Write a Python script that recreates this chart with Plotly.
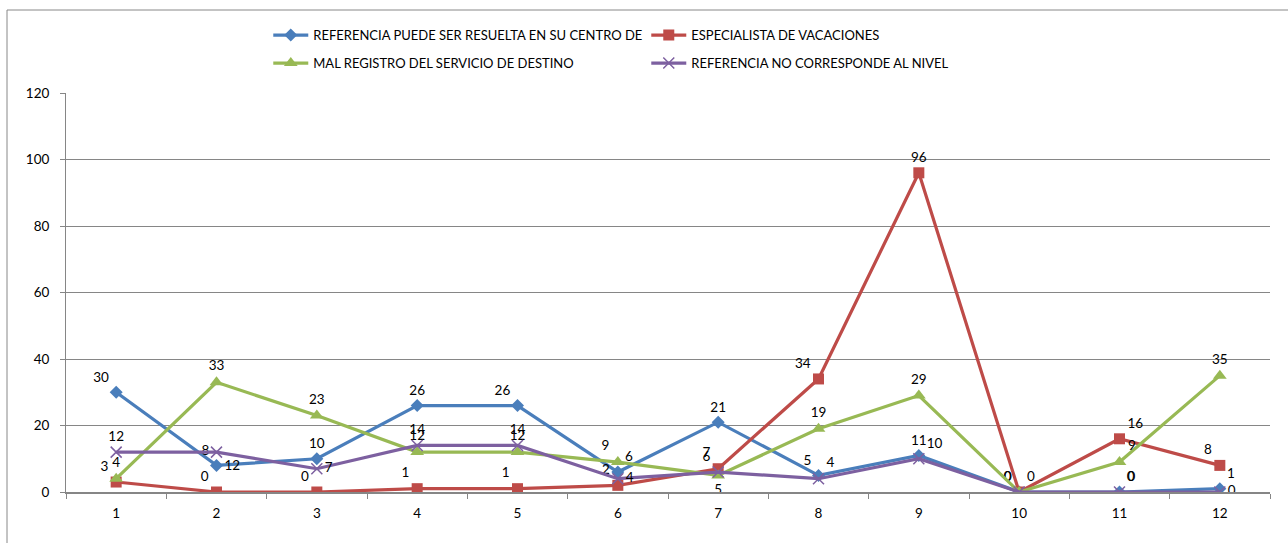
import plotly.graph_objects as go

categories = ["1", "2", "3", "4", "5", "6", "7", "8", "9", "10", "11", "12"]
resuelta_centro = [30, 8, 10, 26, 26, 6, 21, 5, 11, 0, 0, 1]
especialista_vacaciones = [3, 0, 0, 1, 1, 2, 7, 34, 96, 0, 16, 8]
mal_registro = [4, 33, 23, 12, 12, 9, 5, 19, 29, 0, 9, 35]
no_corresponde = [12, 12, 7, 14, 14, 4, 6, 4, 10, 0, 0, 0]

names = [
    "REFERENCIA PUEDE SER RESUELTA EN SU CENTRO DE",
    "ESPECIALISTA DE VACACIONES",
    "MAL REGISTRO DEL SERVICIO DE DESTINO",
    "REFERENCIA NO CORRESPONDE AL NIVEL",
]

FONT = "Lato, 'Open Sans', sans-serif"

pos_blue = ["top left", "top left", "top center", "top center", "top left", "top right",
            "top center", "top left", "top center", "top left", "top right", "top right"]
pos_red = ["top left", "top left", "top left", "top left", "top left", "top left",
           "top left", "top left", "top center", "top left", "top right", "top left"]
pos_green = ["top center", "top center", "top center", "top center", "top center", "top left",
             "bottom center", "top center", "top center", "bottom center", "top right", "top center"]
pos_purple = ["top center", "bottom right", "middle right", "top center", "top center", "middle right",
              "top left", "top right", "top right", "top right", "top right", "middle right"]

fig = go.Figure()

fig.add_trace(go.Scatter(
    x=categories, y=resuelta_centro, name=names[0], mode="lines+markers+text",
    text=[str(v) for v in resuelta_centro], textposition=pos_blue,
    line=dict(color="#4A7EBB", width=3.2),
    marker=dict(symbol="diamond", size=10, color="#4A7EBB"),
    textfont=dict(family=FONT, size=13.5, color="#000000"),
    legend="legend",
))
fig.add_trace(go.Scatter(
    x=categories, y=especialista_vacaciones, name=names[1], mode="lines+markers+text",
    text=[str(v) for v in especialista_vacaciones], textposition=pos_red,
    line=dict(color="#BE4B48", width=3.2),
    marker=dict(symbol="square", size=11, color="#BE4B48"),
    textfont=dict(family=FONT, size=13.5, color="#000000"),
    legend="legend",
))
fig.add_trace(go.Scatter(
    x=categories, y=mal_registro, name=names[2], mode="lines+markers+text",
    text=[str(v) for v in mal_registro], textposition=pos_green,
    line=dict(color="#98B954", width=3.2),
    marker=dict(symbol="triangle-up", size=12, color="#98B954"),
    textfont=dict(family=FONT, size=13.5, color="#000000"),
    legend="legend2",
))
fig.add_trace(go.Scatter(
    x=categories, y=no_corresponde, name=names[3], mode="lines+markers+text",
    text=[str(v) for v in no_corresponde], textposition=pos_purple,
    line=dict(color="#7D60A0", width=3.2),
    marker=dict(symbol="x-thin", size=11, color="#7D60A0",
                line=dict(color="#7D60A0", width=1.5)),
    textfont=dict(family=FONT, size=13.5, color="#000000"),
    legend="legend2",
))

legend_common = dict(
    orientation="h", xanchor="left", yanchor="middle",
    font=dict(family=FONT, size=13, color="#000000"),
    bgcolor="rgba(0,0,0,0)", entrywidth=328, entrywidthmode="pixels",
    itemwidth=35, tracegroupgap=0,
)

fig.update_layout(
    width=1288, height=543,
    margin=dict(l=66, r=18, t=93, b=51, autoexpand=False),
    paper_bgcolor="white", plot_bgcolor="white",
    font=dict(family=FONT, size=13, color="#000000"),
    showlegend=True,
    legend=dict(x=0.168, y=1.145, **legend_common),
    legend2=dict(x=0.168, y=1.075, **legend_common),
    xaxis=dict(
        type="category", range=[-0.5, 11.5], tickson="boundaries", ticks="outside", ticklen=5,
        tickcolor="#868686", showline=True, linecolor="#868686", linewidth=2,
        showgrid=False, zeroline=False, automargin=False,
        tickfont=dict(family=FONT, size=13.5, color="#000000"),
        ticklabelstandoff=8,
    ),
    yaxis=dict(
        range=[0, 120], dtick=20, ticks="outside", ticklen=5, tickcolor="#868686",
        showline=True, linecolor="#868686", linewidth=1,
        showgrid=True, gridcolor="#868686", gridwidth=1, zeroline=False,
        automargin=False,
        tickfont=dict(family=FONT, size=13.5, color="#000000"),
        ticklabelstandoff=8,
    ),
    shapes=[dict(
        type="rect", xref="paper", yref="paper",
        x0=-0.049, x1=1.2, y0=-0.3, y1=1.208,
        line=dict(color="#888888", width=1), fillcolor="rgba(0,0,0,0)", layer="below",
    )],
)

fig.write_html(
    "out.html",
    config={"displayModeBar": False},
    post_script="document.body.style.margin='0';document.body.style.overflow='hidden';",
)
